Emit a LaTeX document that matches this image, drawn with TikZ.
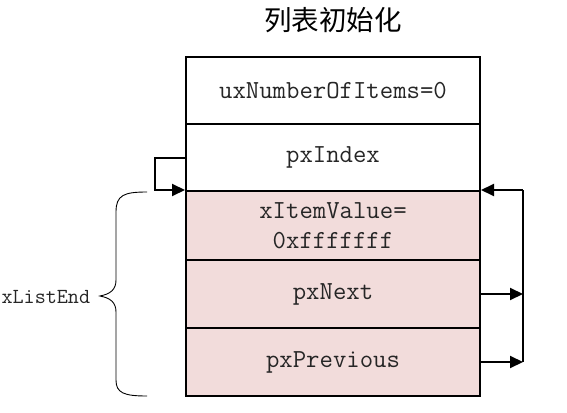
\documentclass[tikz,border=0pt]{standalone}
\usepackage{fontspec}
\newfontfamily\cjk{Noto Sans CJK SC}
\usetikzlibrary{arrows.meta}
\definecolor{cellpink}{HTML}{F2DCDB}
\begin{document}
\begin{tikzpicture}[x=1pt,y=-1pt,
  cell/.style={draw=black,line width=2pt,minimum width=294pt,inner sep=0pt,
    font=\ttfamily\fontsize{26}{30}\selectfont,align=center,text=black!85},
  link/.style={line width=2pt,-{Triangle[length=13pt,width=12pt]}},
  lbl/.style={font=\ttfamily\fontsize{21.5}{25}\selectfont,text=black!85}]
\useasboundingbox (0,0) rectangle (567,412);
\node[font=\cjk\fontsize{27.5}{32}\selectfont] (title) at (333,20) {列表初始化};
\node[cell,minimum height=67pt] (r1) at (333,90.5) {uxNumberOfItems=0};
\node[cell,minimum height=67pt] (r2) at (333,157.5) {pxIndex};
\node[cell,minimum height=69pt,fill=cellpink] (r3) at (333,225.5) {xItemValue=\\0xfffffff};
\node[cell,minimum height=68pt,fill=cellpink] (r4) at (333,294) {pxNext};
\node[cell,minimum height=68pt,fill=cellpink] (r5) at (333,362) {pxPrevious};
\coordinate (loopx) at (155,0);
\coordinate (rx) at (523,0);
\draw[link] (r2.west) -- (r2.west -| loopx) -- (r3.north west -| loopx) -- (r3.north west);
\draw[link] (r4.east) -- (r4.east -| rx);
\draw[link] (r5.east) -- (r5.east -| rx);
\draw[line width=2pt] (r5.east -| rx) -- (r3.north east -| rx);
\draw[link] (r3.north east -| rx) -- (r3.north east);
\node[lbl,anchor=west] (lend) at (-2,297) {xListEnd};
\draw[line width=0.9pt] (147,192) .. controls (124,192) and (116,195) .. (116,212)
  -- (116,280) .. controls (116,290) and (110,294) .. (100,296)
  .. controls (110,298) and (116,302) .. (116,312)
  -- (116,380) .. controls (116,393) and (124,396) .. (147,396);
\end{tikzpicture}
\end{document}
